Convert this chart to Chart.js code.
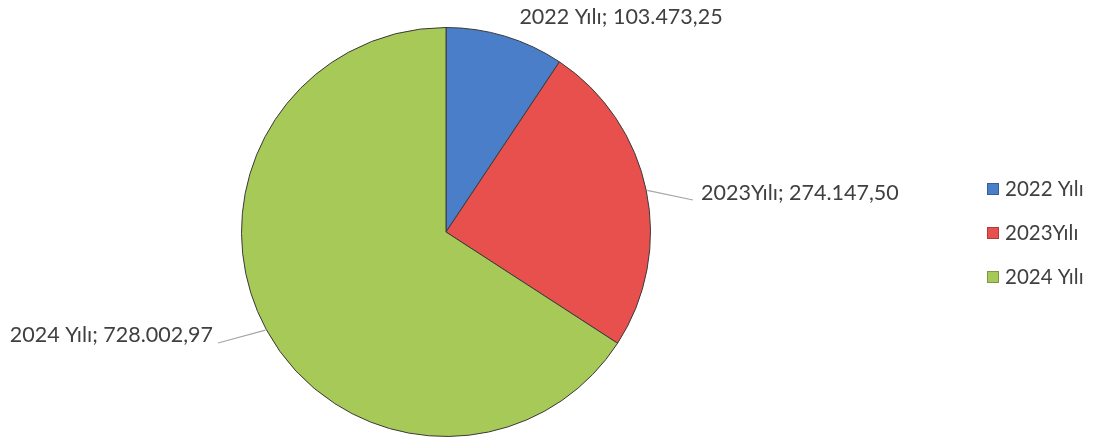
<!DOCTYPE html>
<html><head><meta charset="utf-8">
<script src="https://cdn.jsdelivr.net/npm/chart.js@4"></script>
<style>html,body{margin:0;padding:0;background:#fff}#wrap{width:1101px;height:444px;position:relative}</style>
</head><body><div id="wrap"><canvas id="c" width="1101" height="444"></canvas></div>
<script>
const categories = ["2022 Yılı", "2023Yılı", "2024 Yılı"];
const values = [103473.25, 274147.50, 728002.97];
const valueLabels = ["103.473,25", "274.147,50", "728.002,97"];
const colors = ["#4a7ec8", "#e8504d", "#a7c957"];

const FONT = "Lato, 'Open Sans', sans-serif";
const TXT = "#404040";

const labelPlugin = {
  id: 'labels',
  afterDatasetsDraw(chart) {
    const ctx = chart.ctx;
    const meta = chart.getDatasetMeta(0);
    const place = [
      {tx: 621, ty: 17, align: 'center', line: false},
      {tx: 701, ty: 193, align: 'left', line: true, lx: 693, ly: 200},
      {tx: 213, ty: 335, align: 'right', line: true, lx: 218, ly: 343}
    ];
    ctx.save();
    meta.data.forEach((arc, i) => {
      const p = arc.getProps(['x','y','startAngle','endAngle','outerRadius'], true);
      const mid = (p.startAngle + p.endAngle) / 2;
      const ex = p.x + Math.cos(mid) * (p.outerRadius + 1);
      const ey = p.y + Math.sin(mid) * (p.outerRadius + 1);
      const pl = place[i];
      if (pl.line) {
        ctx.strokeStyle = '#a6a6a6';
        ctx.lineWidth = 1.2;
        ctx.beginPath();
        ctx.moveTo(ex, ey);
        ctx.lineTo(pl.lx, pl.ly);
        ctx.stroke();
      }
      ctx.fillStyle = TXT;
      ctx.font = "21.5px " + FONT;
      ctx.textAlign = pl.align;
      ctx.textBaseline = 'middle';
      ctx.fillText(categories[i] + "; " + valueLabels[i], pl.tx, pl.ty);
    });
    const ly = [189, 233, 277];
    categories.forEach((c, i) => {
      ctx.fillStyle = colors[i];
      ctx.fillRect(987, ly[i] - 6, 12, 12);
      ctx.strokeStyle = 'rgba(0,0,0,0.25)';
      ctx.lineWidth = 1;
      ctx.strokeRect(987.5, ly[i] - 5.5, 11, 11);
      ctx.fillStyle = TXT;
      ctx.font = "20.5px " + FONT;
      ctx.textAlign = 'left';
      ctx.textBaseline = 'middle';
      ctx.fillText(c, 1005, ly[i]);
    });
    ctx.restore();
  }
};

new Chart(document.getElementById('c'), {
  type: 'pie',
  data: {
    labels: categories,
    datasets: [{
      data: values,
      backgroundColor: colors,
      borderColor: '#3a3a3a',
      borderWidth: 1
    }]
  },
  options: {
    responsive: false,
    animation: false,
    layout: {padding: {left: 241, right: 450, top: 27, bottom: 7}},
    plugins: {legend: {display: false}, tooltip: {enabled: false}}
  },
  plugins: [labelPlugin]
});
</script></body></html>
